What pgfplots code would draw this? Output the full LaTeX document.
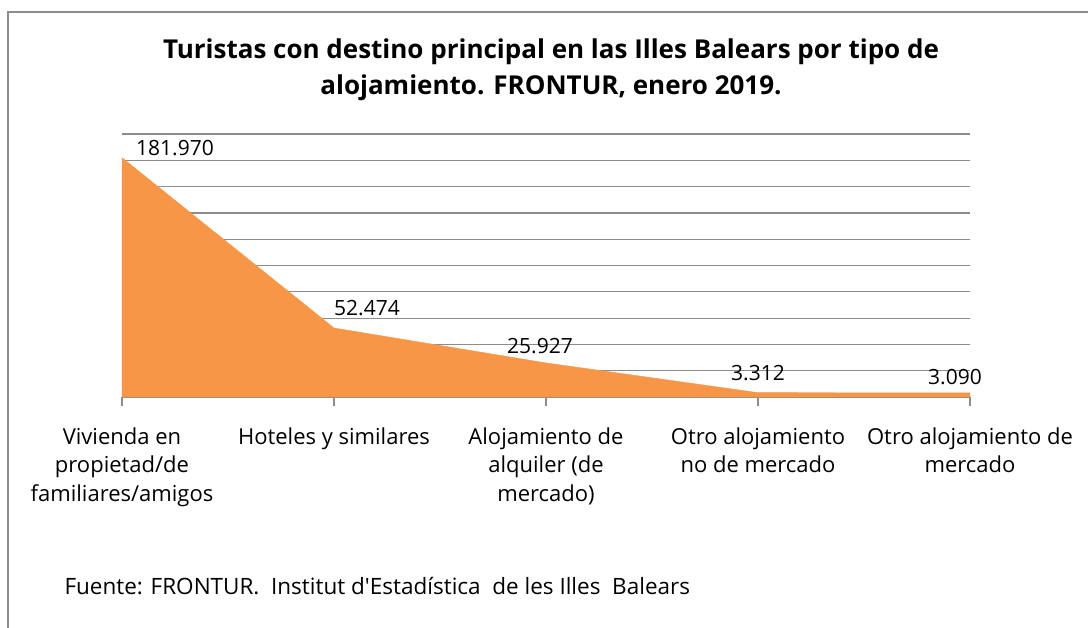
\documentclass[border=0pt]{standalone}
\usepackage{fontspec}
\setmainfont{Open Sans}[Ligatures=ResetAll]
\usepackage{pgfplots}
\pgfplotsset{compat=1.18}
\definecolor{areaor}{HTML}{F79646}
\definecolor{gridg}{HTML}{8C8C8C}
\begin{document}
\begin{tikzpicture}
\useasboundingbox (0,0) rectangle (1088pt,-628pt);
\draw[gridg, line width=1.5pt] (8pt,-628pt) -- (8pt,-12pt) -- (1088pt,-12pt);
\node[font=\fontsize{26}{36}\selectfont\bfseries, align=center] at (551pt,-70pt)
  {Turistas con destino principal en las Illes Balears por tipo de\\alojamiento. FRONTUR, enero 2019.};
\node[font=\fontsize{22.5}{24}\selectfont, anchor=west] at (61pt,-586pt)
  {Fuente: FRONTUR.\ \ Institut d\textquotesingle Estadística\ \ de les Illes\ \ Balears};
\begin{axis}[
  at={(122pt,-397pt)}, anchor=south west,
  scale only axis, width=848pt, height=263pt,
  xmin=0, xmax=4, ymin=0, ymax=200000,
  ytick distance=20000, yticklabels={}, scaled y ticks=false,
  ymajorgrids, grid style={gridg, line width=1.2pt},
  axis x line*=bottom, axis y line*=left,
  y axis line style={draw=none}, ytick style={draw=none},
  x axis line style={gridg, line width=1.2pt, -},
  xtick={0,1,2,3,4},
  xticklabels={Vivienda en\\propietad/de\\familiares/amigos, Hoteles y similares, Alojamiento de\\alquiler (de\\mercado), Otro alojamiento\\no de mercado, Otro alojamiento de\\mercado},
  xtick align=outside, major tick length=9pt,
  xtick style={gridg, line width=1.2pt},
  xticklabel style={font=\fontsize{22}{28.5}\selectfont, align=center, anchor=north, yshift=-18pt},
  clip=false,
]
\addplot[fill=areaor, draw=areaor] coordinates {(0,181970) (1,52474) (2,25927) (3,3312) (4,3090)} \closedcycle;
\node[font=\fontsize{21}{24}\selectfont] at (axis cs:0,181970) [xshift=53pt, yshift=10pt] {181.970};
\node[font=\fontsize{21}{24}\selectfont] at (axis cs:1,52474) [xshift=33pt, yshift=20pt] {52.474};
\node[font=\fontsize{21}{24}\selectfont] at (axis cs:2,25927) [xshift=-6pt, yshift=17pt] {25.927};
\node[font=\fontsize{21}{24}\selectfont] at (axis cs:3,3312) [xshift=0pt, yshift=20pt] {3.312};
\node[font=\fontsize{21}{24}\selectfont] at (axis cs:4,3090) [xshift=-15pt, yshift=16pt] {3.090};
\end{axis}
\end{tikzpicture}
\end{document}
